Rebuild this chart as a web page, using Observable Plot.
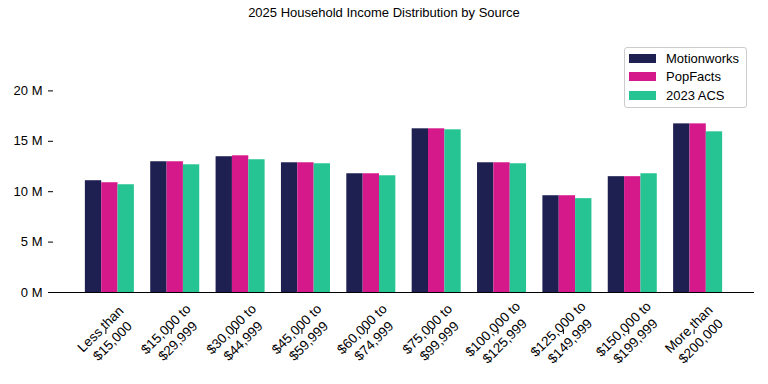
<!DOCTYPE html>
<html><head><meta charset="utf-8">
<script src="https://cdn.jsdelivr.net/npm/d3@7"></script>
<script src="https://cdn.jsdelivr.net/npm/@observablehq/plot@0.6"></script>
<style>
body{margin:0;background:#fff;font-family:"Liberation Sans",Arial,sans-serif;}
#wrap{position:relative;width:768px;height:384px;}
#title{height:26px;line-height:26px;text-align:center;font-size:13px;color:#000;}
#legend{position:absolute;left:624px;top:47px;width:121px;height:59px;border:1px solid #ccc;border-radius:3px;background:rgba(255,255,255,0.8);font-size:13px;color:#000;}
.row{position:absolute;left:0;height:18px;display:flex;align-items:center;}
.sw{width:27px;height:9px;margin-left:4px;margin-right:10px;}
</style></head><body>
<div id="wrap"><div id="title">2025 Household Income Distribution by Source</div><div id="chart"></div><div id="legend"></div></div>
<script>
const categories = ["Less than\n$15,000", "$15,000 to\n$29,999", "$30,000 to\n$44,999", "$45,000 to\n$59,999", "$60,000 to\n$74,999", "$75,000 to\n$99,999", "$100,000 to\n$125,999", "$125,000 to\n$149,999", "$150,000 to\n$199,999", "More than\n$200,000"];
const sources = ["Motionworks", "PopFacts", "2023 ACS"];
const colors = ["#1f2052", "#d6198a", "#25c492"];
// values in millions of households
const motionworks = [11.09, 12.97, 13.47, 12.87, 11.78, 16.24, 12.87, 9.60, 11.49, 16.73];
const popfacts    = [10.89, 12.97, 13.56, 12.87, 11.78, 16.24, 12.87, 9.60, 11.49, 16.73];
const acs         = [10.69, 12.67, 13.17, 12.77, 11.58, 16.14, 12.77, 9.31, 11.78, 15.94];
const yTicks = [0, 5, 10, 15, 20];

// grouped bars: each bar is 0.25 wide, offset around the category index
const barWidth = 0.25;
const series = [motionworks, popfacts, acs];
const data = categories.flatMap((c, i) => sources.map((s, j) => {
  const x1 = i + (j - 1) * barWidth - barWidth / 2;
  return {index: i, source: s, value: series[j][i], x1, x2: x1 + barWidth};
}));
const xMin = -1.5 * barWidth, xMax = categories.length - 1 + 1.5 * barWidth;
const pad = (xMax - xMin) * 0.05;

const font = '"Liberation Sans", Arial, sans-serif';
const chart = Plot.plot({
  width: 768, height: 358,
  marginTop: 14, marginBottom: 92, marginLeft: 53, marginRight: 14,
  style: {fontFamily: font, fontSize: "13px", color: "#000", background: "transparent"},
  x: {domain: [xMin - pad, xMax + pad], label: null},
  y: {domain: [0, 25], label: null},
  color: {domain: sources, range: colors},
  marks: [
    Plot.rectY(data, {x1: "x1", x2: "x2", y: "value", fill: "source"}),
    Plot.axisY({ticks: yTicks, tickFormat: d => `${d} M`, tickSize: 5, tickPadding: 6, label: null}),
    Plot.axisX({ticks: d3.range(categories.length), tickFormat: i => categories[i], tickSize: 5, tickPadding: 0, tickRotate: -45, textAnchor: "middle", lineAnchor: "middle", lineHeight: 1.25, fontSize: 13.5, dx: -4, dy: 37, label: null}),
    Plot.ruleY([0], {stroke: "#000"})
  ]
});
document.getElementById("chart").append(chart);

const legend = document.getElementById("legend");
sources.forEach((s, j) => {
  const row = document.createElement("div");
  row.className = "row";
  row.style.top = (1 + j * 18.5) + "px";
  const sw = document.createElement("div");
  sw.className = "sw";
  sw.style.background = colors[j];
  const t = document.createElement("span");
  t.textContent = s;
  row.append(sw, t);
  legend.append(row);
});
</script>
</body></html>
